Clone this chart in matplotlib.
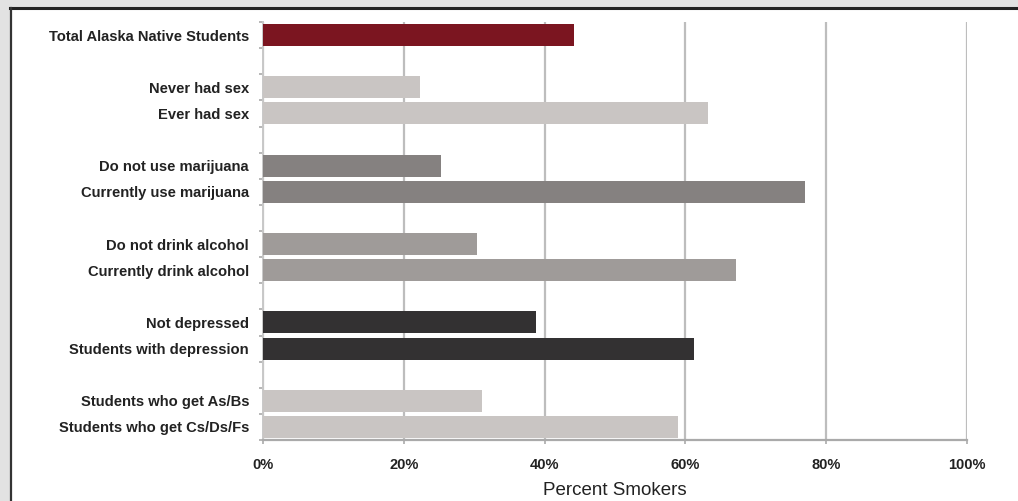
import matplotlib
matplotlib.use('Agg')
import matplotlib.pyplot as plt
from matplotlib.patches import Rectangle
from matplotlib.lines import Line2D

# Data (percent smokers)
labels = ['Total Alaska Native Students',
          'Never had sex', 'Ever had sex',
          'Do not use marijuana', 'Currently use marijuana',
          'Do not drink alcohol', 'Currently drink alcohol',
          'Not depressed', 'Students with depression',
          'Students who get As/Bs', 'Students who get Cs/Ds/Fs']
values = [44.2, 22.3, 63.2, 25.3, 77.0, 30.4, 67.2, 38.8, 61.2, 31.1, 59.0]
slots = [0, 2, 3, 5, 6, 8, 9, 11, 12, 14, 15]
colors = ['#7b1520', '#c9c5c3', '#c9c5c3', '#858180', '#858180',
          '#9f9b99', '#9f9b99', '#333132', '#333132', '#c9c5c3', '#c9c5c3']
xticks = [0, 20, 40, 60, 80, 100]
xtick_labels = ['0%', '20%', '40%', '60%', '80%', '100%']

plt.rcParams['font.family'] = ['Liberation Sans', 'DejaVu Sans']

fig = plt.figure(figsize=(10.18, 5.01), dpi=100)
fig.patch.set_facecolor('#e2e2e2')

# white panel with dark border on top and left
fig.patches.append(Rectangle((10 / 1018, 0), 1.0, 1 - 8 / 501,
                             transform=fig.transFigure, facecolor='white',
                             edgecolor='none', zorder=-10))
fig.lines.append(Line2D([10 / 1018, 1.0], [1 - 8 / 501, 1 - 8 / 501],
                        transform=fig.transFigure, color='#222222', lw=2.2, zorder=-5))
fig.lines.append(Line2D([11 / 1018, 11 / 1018], [0, 1 - 8 / 501],
                        transform=fig.transFigure, color='#333333', lw=1.6, zorder=-5))

ax = fig.add_axes([263 / 1018, 61 / 501, 704 / 1018, 418 / 501])
ax.set_zorder(5)
ax.set_facecolor('none')

ax.barh(slots, values, height=0.84, color=colors, zorder=3)

ax.set_xlim(0, 100)
ax.set_ylim(15.5, -0.5)

ax.set_xticks(xticks)
ax.set_xticklabels(xtick_labels, fontsize=10.5, fontweight='bold', color='#222222')
ax.set_yticks(slots)
ax.set_yticklabels(labels, fontsize=10.6, fontweight='bold', color='#222222')
ax.set_yticks([s - 0.5 for s in range(17)], minor=True)

ax.tick_params(axis='y', which='major', length=0, pad=10)
ax.tick_params(axis='y', which='minor', length=3, color='#aaaaaa', width=1.2)
ax.tick_params(axis='x', length=3, color='#aaaaaa', width=1.2, pad=10)

ax.grid(axis='x', color='#bdbdbd', lw=1.6, zorder=1)
ax.set_axisbelow(True)

for side in ['top', 'right']:
    ax.spines[side].set_visible(False)
ax.spines['left'].set_color('#c8c8c8')
ax.spines['left'].set_linewidth(1.4)
ax.spines['bottom'].set_color('#aaaaaa')
ax.spines['bottom'].set_linewidth(1.6)

ax.set_xlabel('Percent Smokers', fontsize=13.5, color='#222222', labelpad=7)

plt.savefig('out.png', dpi=100, facecolor=fig.get_facecolor())
